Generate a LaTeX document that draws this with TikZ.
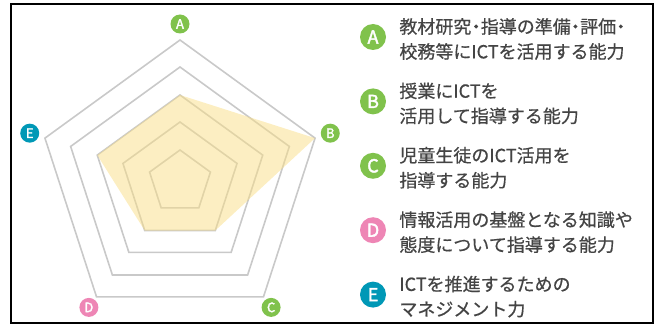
\documentclass[tikz,border=0pt]{standalone}
\usepackage{fontspec}
\setmainfont{Noto Sans CJK JP}
\newfontfamily\medfont{Noto Sans CJK JP}[FakeBold=0.6]
\newfontfamily\keyfont{Noto Sans CJK JP}[FakeBold=2.2]
\usepackage{xcolor}
\usetikzlibrary{positioning}

\definecolor{gridgray}{HTML}{C9C9C9}
\definecolor{fillyellow}{HTML}{F9DE86}
\definecolor{keygreen}{HTML}{80C24C}
\definecolor{keypink}{HTML}{EE86B5}
\definecolor{keyblue}{HTML}{0098B6}
\definecolor{txtgray}{HTML}{444444}

% narrow middle dot
\newcommand{\nkg}{\makebox[0.52em]{・}}

\begin{document}
\begin{tikzpicture}[x=1pt, y=1pt,
    ring/.style={draw=gridgray, line width=1.6pt},
    chartkey/.style={circle, fill=#1, text=white, inner sep=0pt, minimum size=19pt,
        font=\keyfont\fontsize{13}{13}\selectfont},
    legkey/.style={circle, fill=#1, text=white, inner sep=0pt, minimum size=26pt,
        font=\keyfont\fontsize{18}{18}\selectfont},
    legtext/.style={align=left, text=txtgray, inner sep=0pt,
        font=\medfont\fontsize{18}{25}\selectfont}]
    \useasboundingbox (0,0) rectangle (659,327);
    \draw[line width=2.2pt] (11,4) rectangle (653,323);

    % radar chart
    \begin{scope}[shift={(180,145)}]
        \foreach \r in {32,60,87,115,142}
            \draw[ring] (90:\r) -- (18:\r) -- (-54:\r) -- (-126:\r) -- (162:\r) -- cycle;
        \fill[fillyellow, opacity=0.5] (90:87) -- (18:142) -- (-54:60) -- (-126:60) -- (162:87) -- cycle;

        \node[chartkey=keygreen] (labA) at (90:158) {A};
        \node[chartkey=keygreen] (labB) at (18:158) {B};
        \node[chartkey=keygreen] (labC) at (-54:155) {C};
        \node[chartkey=keypink] (labD) at (-126:155) {D};
        \node[chartkey=keyblue] (labE) at (162:158) {E};
    \end{scope}

    % legend
    \node[legkey=keygreen] (keyA) at (373,290) {A};
    \node[legkey=keygreen, below=38pt of keyA] (keyB) {B};
    \node[legkey=keygreen, below=38pt of keyB] (keyC) {C};
    \node[legkey=keypink, below=38pt of keyC] (keyD) {D};
    \node[legkey=keyblue, below=38pt of keyD] (keyE) {E};

    \node[legtext, right=13pt of keyA, yshift=-2pt] (txtA) {教材研究\nkg 指導の準備\nkg 評価\nkg\\校務等にICTを活用する能力};
    \node[legtext, right=13pt of keyB, yshift=-2pt] (txtB) {授業にICTを\\活用して指導する能力};
    \node[legtext, right=13pt of keyC, yshift=-2pt] (txtC) {児童生徒のICT活用を\\指導する能力};
    \node[legtext, right=13pt of keyD, yshift=-2pt] (txtD) {情報活用の基盤となる知識や\\態度について指導する能力};
    \node[legtext, right=13pt of keyE, yshift=-2pt] (txtE) {ICTを推進するための\\マネジメント力};
\end{tikzpicture}
\end{document}
